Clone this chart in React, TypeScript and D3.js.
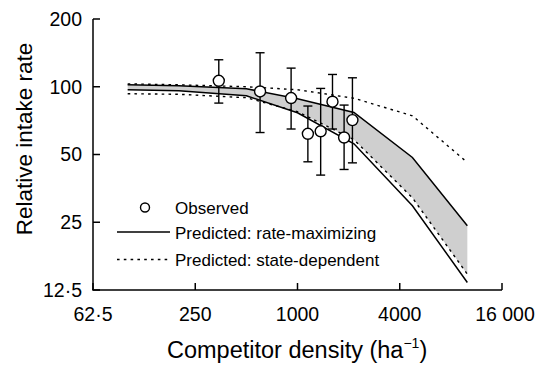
import React from "react";
import * as d3 from "d3";

const densities = [100, 200, 500, 1000, 2150, 4750, 10000];
const rateMax = [102, 101, 98, 88.4, 76.9, 48.5, 24.1];
const rateMin = [97, 96, 91.2, 76.6, 55.8, 29.6, 13.5];
const stateMax = [103, 102, 100, 97, 88.9, 74.3, 46.1];
const stateMin = [93.1, 92.6, 89.4, 77.5, 58.2, 32.1, 14.7];

const obsDensity = [344, 602, 917, 1151, 1369, 1607, 1881, 2106];
const obsMean = [106.3, 95.3, 89.1, 61.8, 63.4, 85.8, 59.5, 71.1];
const obsLow = [84.6, 62.6, 64.9, 46.4, 40.5, 64.9, 42.9, 45.9];
const obsHigh = [131.8, 141.6, 121, 82.1, 98.3, 113.4, 82.9, 109.6];

const xTicks = [62.5, 250, 1000, 4000, 16000];
const xTickLabels = ["62·5", "250", "1000", "4000", "16 000"];
const yTicks = [12.5, 25, 50, 100, 200];
const yTickLabels = ["12·5", "25", "50", "100", "200"];

const legendLabels = ["Observed", "Predicted: rate-maximizing", "Predicted: state-dependent"];

const FONT = "'Liberation Sans', Arial, Helvetica, sans-serif";

export default function App() {
  const x = d3.scaleLog().domain([62.5, 16000]).range([93, 502]);
  const y = d3.scaleLog().domain([12.5, 200]).range([290, 19]);

  const line = d3
    .line<[number, number]>()
    .x((d) => x(d[0]))
    .y((d) => y(d[1]));

  const overlap = densities.map((d, i) => ({
    d,
    top: Math.min(rateMax[i], stateMax[i]),
    bottom: Math.max(rateMin[i], stateMin[i]),
  }));
  const area = d3
    .area<{ d: number; top: number; bottom: number }>()
    .x((p) => x(p.d))
    .y0((p) => y(p.bottom))
    .y1((p) => y(p.top));

  const pts = (vals: number[]) => densities.map((d, i) => [d, vals[i]] as [number, number]);
  const dash = "2.6,4.2";
  const capW = 4.5;

  return (
    <svg
      width={538}
      height={366}
      style={{ position: "absolute", left: 0, top: 0, background: "#fff" }}
      fontFamily={FONT}
    >
      <rect x={0} y={0} width={538} height={366} fill="#fff" />
      <path d={area(overlap) || ""} fill="#cfcfcf" stroke="none" />
      <path d={line(pts(rateMax)) || ""} fill="none" stroke="#000" strokeWidth={1.5} />
      <path d={line(pts(rateMin)) || ""} fill="none" stroke="#000" strokeWidth={1.5} />
      <path d={line(pts(stateMax)) || ""} fill="none" stroke="#000" strokeWidth={1.4} strokeDasharray={dash} />
      <path d={line(pts(stateMin)) || ""} fill="none" stroke="#000" strokeWidth={1.4} strokeDasharray={dash} />

      {obsDensity.map((d, i) => (
        <g key={"eb" + i} stroke="#000" strokeWidth={1.4}>
          <line x1={x(d)} x2={x(d)} y1={y(obsHigh[i])} y2={y(obsLow[i])} />
          <line x1={x(d) - capW} x2={x(d) + capW} y1={y(obsHigh[i])} y2={y(obsHigh[i])} />
          <line x1={x(d) - capW} x2={x(d) + capW} y1={y(obsLow[i])} y2={y(obsLow[i])} />
        </g>
      ))}
      {obsDensity.map((d, i) => (
        <circle key={"c" + i} cx={x(d)} cy={y(obsMean[i])} r={5.5} fill="#fff" stroke="#000" strokeWidth={1.4} />
      ))}

      {/* axes */}
      <line x1={93} x2={93} y1={y(200)} y2={290} stroke="#000" strokeWidth={1.5} />
      <line x1={92.25} x2={x(16000)} y1={290} y2={290} stroke="#000" strokeWidth={1.5} />
      {yTicks.map((t, i) => (
        <g key={"yt" + i}>
          <line x1={93} x2={100} y1={y(t)} y2={y(t)} stroke="#000" strokeWidth={1.5} />
          <text x={82} y={y(t)} dy="0.35em" textAnchor="end" fontSize={19.5} fill="#000">
            {yTickLabels[i]}
          </text>
        </g>
      ))}
      {xTicks.map((t, i) => (
        <g key={"xt" + i}>
          <line x1={x(t)} x2={x(t)} y1={290} y2={283} stroke="#000" strokeWidth={1.5} />
          <text x={x(t) + (i === xTicks.length - 1 ? 3 : 0)} y={321} textAnchor="middle" fontSize={19.5} fill="#000">
            {xTickLabels[i]}
          </text>
        </g>
      ))}

      <text
        transform="translate(32,139) rotate(-90)"
        textAnchor="middle"
        fontSize={22.5}
        fill="#000"
      >
        Relative intake rate
      </text>
      <text x={167} y={358} fontSize={23.5} fill="#000">
        Competitor density (ha
        <tspan fontSize={14} dy={-10}>−1</tspan>
        <tspan dy={10}>)</tspan>
      </text>

      {/* legend */}
      <circle cx={145} cy={207.5} r={4.5} fill="#fff" stroke="#000" strokeWidth={1.4} />
      <text x={175} y={214} fontSize={17} fill="#000">{legendLabels[0]}</text>
      <line x1={117} x2={170} y1={232} y2={232} stroke="#000" strokeWidth={1.5} />
      <text x={175} y={239} fontSize={17} fill="#000">{legendLabels[1]}</text>
      <line x1={117} x2={170} y1={259.5} y2={259.5} stroke="#000" strokeWidth={1.4} strokeDasharray={dash} />
      <text x={175} y={266} fontSize={17} fill="#000">{legendLabels[2]}</text>
    </svg>
  );
}
